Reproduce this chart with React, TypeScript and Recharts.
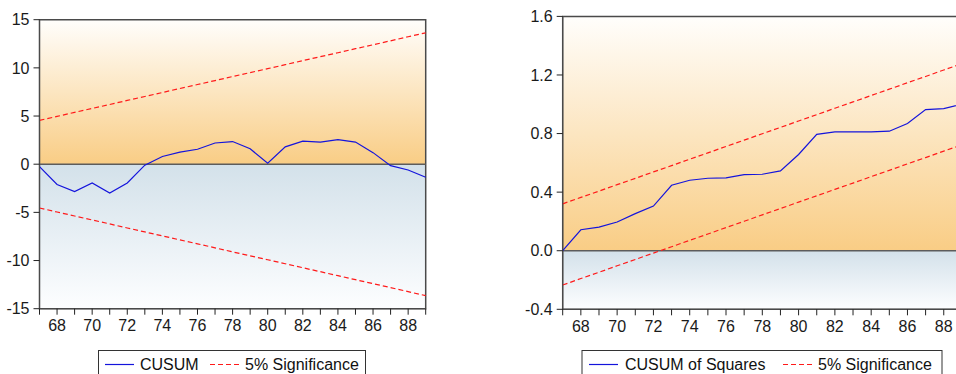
import React from "react";
import {
  LineChart,
  Line,
  XAxis,
  YAxis,
  ReferenceArea,
  ReferenceLine,
} from "recharts";

const years = [67, 68, 69, 70, 71, 72, 73, 74, 75, 76, 77, 78, 79, 80, 81, 82, 83, 84, 85, 86, 87, 88, 89];
const yearTicks = years;

// CUSUM test
const cusum = [-0.25, -2.1, -2.85, -1.95, -3.0, -1.95, -0.1, 0.8, 1.25, 1.55, 2.2, 2.35, 1.6, 0.1, 1.8, 2.4, 2.3, 2.55, 2.3, 1.2, -0.15, -0.6, -1.35];
const cusumUpper = [4.55, 4.96, 5.38, 5.79, 6.2, 6.62, 7.03, 7.44, 7.86, 8.27, 8.68, 9.1, 9.51, 9.92, 10.33, 10.75, 11.16, 11.57, 11.99, 12.4, 12.81, 13.23, 13.64];
const cusumLower = [-4.55, -4.96, -5.38, -5.79, -6.2, -6.62, -7.03, -7.44, -7.86, -8.27, -8.68, -9.1, -9.51, -9.92, -10.33, -10.75, -11.16, -11.57, -11.99, -12.4, -12.81, -13.23, -13.64];
const cusumTicks = [-15, -10, -5, 0, 5, 10, 15];

// CUSUM of squares test
const cusumSq = [0, 0.143, 0.161, 0.196, 0.253, 0.305, 0.447, 0.481, 0.495, 0.498, 0.52, 0.522, 0.545, 0.657, 0.795, 0.811, 0.811, 0.811, 0.816, 0.869, 0.964, 0.97, 1.0];
const sqUpper = [0.32, 0.364, 0.407, 0.451, 0.494, 0.538, 0.581, 0.625, 0.668, 0.712, 0.755, 0.799, 0.842, 0.886, 0.929, 0.973, 1.016, 1.06, 1.103, 1.147, 1.19, 1.234, 1.277];
const sqLower = [-0.234, -0.19, -0.147, -0.103, -0.06, -0.016, 0.027, 0.071, 0.114, 0.158, 0.201, 0.245, 0.288, 0.332, 0.375, 0.419, 0.462, 0.506, 0.549, 0.593, 0.636, 0.68, 0.723];
const sqTicks = [-0.4, 0, 0.4, 0.8, 1.2, 1.6];

const cusumData = years.map((y, i) => ({ year: y, v: cusum[i], up: cusumUpper[i], lo: cusumLower[i] }));
const sqData = years.map((y, i) => ({ year: y, v: cusumSq[i], up: sqUpper[i], lo: sqLower[i] }));

const FONT = "'Liberation Sans', Arial, sans-serif";
const BLUE = "#1414dc";
const RED = "#ff1a1a";
const FRAME = "#4a4a4a";

const tickStyle = { fill: "#1a1a1a", fontSize: 16, fontFamily: FONT };

function Gradients({ id }: { id: string }) {
  return (
    <defs>
      <linearGradient id={id + "-up"} x1="0" y1="0" x2="0" y2="1">
        <stop offset="0%" stopColor="#fffefc" />
        <stop offset="100%" stopColor="#f9cd85" />
      </linearGradient>
      <linearGradient id={id + "-down"} x1="0" y1="0" x2="0" y2="1">
        <stop offset="0%" stopColor="#d3e1ea" />
        <stop offset="100%" stopColor="#fdfeff" />
      </linearGradient>
    </defs>
  );
}

type LegendItem = { label: string; dashed: boolean; lineX: number; textX: number };

function LegendBox({ left, width, items }: { left: number; width: number; items: LegendItem[] }) {
  return (
    <svg
      style={{ position: "absolute", left: 0, top: 0 }}
      width={956}
      height={374}
    >
      <rect x={left + 0.5} y={350.5} width={width} height={30} fill="#fff" stroke="#333" />
      {items.map((it) => (
        <g key={it.label}>
          <line
            x1={it.lineX}
            x2={it.lineX + 29}
            y1={364.5}
            y2={364.5}
            stroke={it.dashed ? RED : BLUE}
            strokeWidth={1.2}
            strokeDasharray={it.dashed ? "5 3" : undefined}
          />
          <text x={it.textX} y={370} fontSize={16} fontFamily={FONT} fill="#111">
            {it.label}
          </text>
        </g>
      ))}
    </svg>
  );
}

function CusumChart() {
  return (
    <LineChart
      width={460}
      height={374}
      data={cusumData}
      margin={{ top: 19.7, right: 34.3, bottom: 35.3, left: 0.5 }}
      style={{ position: "absolute", left: 0, top: 0 }}
    >
      <Gradients id="c1" />
      <XAxis
        dataKey="year"
        type="number"
        domain={[67, 89]}
        ticks={yearTicks}
        interval={0}
        height={30}
        tickSize={6}
        tickMargin={5}
        fontSize={16}
        tickFormatter={(v: number) => (v % 2 === 0 ? String(v) : "")}
        tick={tickStyle}
        stroke={FRAME}
        tickLine={{ stroke: "#222" }}
      />
      <YAxis
        type="number"
        domain={[-15, 15]}
        ticks={cusumTicks}
        interval={0}
        width={39}
        tickSize={6}
        tickMargin={4}
        fontSize={16}
        tick={tickStyle}
        stroke={FRAME}
        tickLine={{ stroke: "#222" }}
      />
      <ReferenceArea x1={67} x2={89} y1={0} y2={15} fill="url(#c1-up)" fillOpacity={1} stroke="none" />
      <ReferenceArea x1={67} x2={89} y1={-15} y2={0} fill="url(#c1-down)" fillOpacity={1} stroke="none" />
      <ReferenceLine y={0} stroke="#5c5c5c" strokeWidth={1.6} />
      <ReferenceArea x1={67} x2={89} y1={-15} y2={15} fill="none" stroke={FRAME} strokeWidth={1.5} />
      <Line dataKey="up" stroke={RED} strokeWidth={1.2} strokeDasharray="5 3" dot={false} isAnimationActive={false} />
      <Line dataKey="lo" stroke={RED} strokeWidth={1.2} strokeDasharray="5 3" dot={false} isAnimationActive={false} />
      <Line dataKey="v" stroke={BLUE} strokeWidth={1.2} dot={false} isAnimationActive={false} />
    </LineChart>
  );
}

function SquaresChart() {
  return (
    <LineChart
      width={500}
      height={374}
      data={sqData}
      margin={{ top: 16.4, right: 18.1, bottom: 34.7, left: 40 }}
      style={{ position: "absolute", left: 480, top: 0 }}
    >
      <Gradients id="c2" />
      <XAxis
        dataKey="year"
        type="number"
        domain={[67, 89]}
        ticks={yearTicks}
        interval={0}
        height={30}
        tickSize={6}
        tickMargin={5}
        fontSize={16}
        tickFormatter={(v: number) => (v % 2 === 0 ? String(v) : "")}
        tick={tickStyle}
        stroke={FRAME}
        tickLine={{ stroke: "#222" }}
      />
      <YAxis
        type="number"
        domain={[-0.4, 1.6]}
        ticks={sqTicks}
        interval={0}
        width={42.7}
        tickSize={6}
        tickMargin={4}
        fontSize={16}
        tickFormatter={(v: number) => v.toFixed(1)}
        tick={tickStyle}
        stroke={FRAME}
        tickLine={{ stroke: "#222" }}
      />
      <ReferenceArea x1={67} x2={89} y1={0} y2={1.6} fill="url(#c2-up)" fillOpacity={1} stroke="none" />
      <ReferenceArea x1={67} x2={89} y1={-0.4} y2={0} fill="url(#c2-down)" fillOpacity={1} stroke="none" />
      <ReferenceLine y={0} stroke="#5c5c5c" strokeWidth={1.6} />
      <ReferenceArea x1={67} x2={89} y1={-0.4} y2={1.6} fill="none" stroke={FRAME} strokeWidth={1.5} />
      <Line dataKey="up" stroke={RED} strokeWidth={1.2} strokeDasharray="5 3" dot={false} isAnimationActive={false} />
      <Line dataKey="lo" stroke={RED} strokeWidth={1.2} strokeDasharray="5 3" dot={false} isAnimationActive={false} />
      <Line dataKey="v" stroke={BLUE} strokeWidth={1.2} dot={false} isAnimationActive={false} />
    </LineChart>
  );
}

export default function App() {
  return (
    <div
      style={{
        position: "fixed",
        left: 0,
        top: 0,
        width: 956,
        height: 374,
        overflow: "hidden",
        background: "#fff",
      }}
    >
      <CusumChart />
      <SquaresChart />
      <LegendBox
        left={98}
        width={267}
        items={[
          { label: "CUSUM", dashed: false, lineX: 105, textX: 140 },
          { label: "5% Significance", dashed: true, lineX: 210, textX: 245 },
        ]}
      />
      <LegendBox
        left={581.5}
        width={360}
        items={[
          { label: "CUSUM of Squares", dashed: false, lineX: 589, textX: 625 },
          { label: "5% Significance", dashed: true, lineX: 783, textX: 818 },
        ]}
      />
    </div>
  );
}
